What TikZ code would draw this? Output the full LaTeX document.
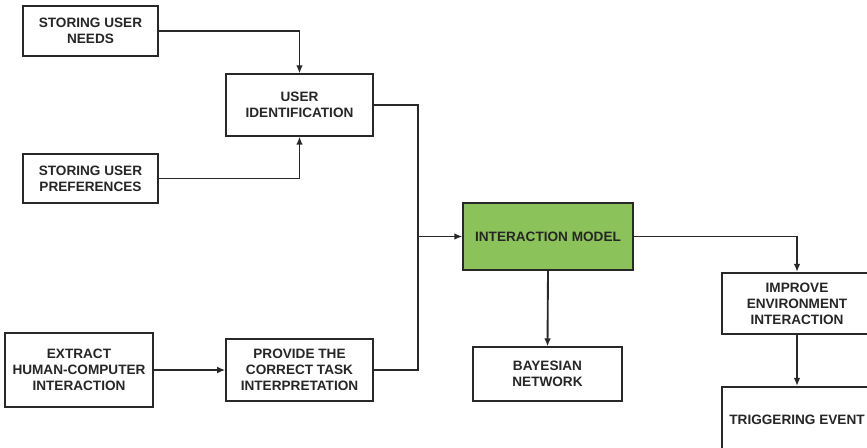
\documentclass[tikz,border=0pt]{standalone}
\usepackage{fontspec}
\setmainfont{Liberation Sans}
\usetikzlibrary{arrows.meta}
\definecolor{modelgreen}{RGB}{139,194,90}
\definecolor{edge}{RGB}{40,40,40}

\tikzset{
    box/.style={draw=edge, line width=1.4pt, fill=white, align=center, inner sep=2pt,
        font=\fontsize{10.2}{12}\selectfont\bfseries, text=black!85},
    link/.style={draw=edge, line width=1.4pt, -{Latex[length=6pt,width=5pt]}},
    wire/.style={draw=edge, line width=1.4pt}
}

\begin{document}
\begin{tikzpicture}[x=0.75pt, y=-0.75pt]
                    \useasboundingbox (0,0) rectangle (867,447);
                    \clip (0,0) rectangle (867,447);
                    % user side
                    \node[box, minimum width=101pt, minimum height=37pt] (needs) at (90.5,31) {STORING USER\\NEEDS};
                    \node[box, minimum width=101pt, minimum height=37pt] (prefs) at (90.5,178.5) {STORING USER\\PREFERENCES};
                    \node[box, minimum width=110pt, minimum height=46pt] (userid) at (299.5,105) {USER\\IDENTIFICATION};
                    % task side
                    \node[box, minimum width=111pt, minimum height=55pt] (extract) at (79,370) {EXTRACT\\HUMAN-COMPUTER\\INTERACTION};
                    \node[box, minimum width=110pt, minimum height=46pt] (provide) at (299.5,370) {PROVIDE THE\\CORRECT TASK\\INTERPRETATION};
                    % model and outputs
                    \node[box, fill=modelgreen, minimum width=127pt, minimum height=50pt] (model) at (548,236.5) {INTERACTION MODEL};
                    \node[box, minimum width=112pt, minimum height=40pt] (bayes) at (547.5,374) {BAYESIAN\\NETWORK};
                    \node[box, minimum width=113pt, minimum height=46pt] (improve) at (797,303.5) {IMPROVE\\ENVIRONMENT\\INTERACTION};
                    \node[box, minimum width=113pt, minimum height=49pt] (trigger) at (797,419.5) {TRIGGERING EVENT};
                    \coordinate (bus) at (418,236.5);

                    \draw[link] (needs.east) -| (userid.north);
                    \draw[link] (prefs.east) -| (userid.south);
                    \draw[link] (extract) -- (provide);
                    \draw[wire] (userid.east) -| (bus);
                    \draw[wire] (provide.east) -| (bus);
                    \draw[link] (bus) -- (model.west);
                    \draw[link] (model.south) -- (bayes.north);
                    \draw[link] (model.east) -| (improve.north);
                    \draw[link] (improve) -- (trigger);
                \end{tikzpicture}
\end{document}
